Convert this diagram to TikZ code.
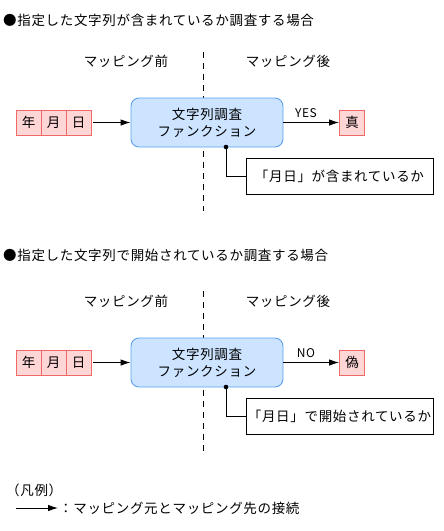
\documentclass[tikz,border=0pt]{standalone}
\usepackage{fontspec}
\setmainfont[LetterSpace=5]{Noto Sans CJK JP}
\usetikzlibrary{arrows.meta}
\definecolor{cellfill}{HTML}{FFD6D6}
\definecolor{celldraw}{HTML}{F06868}
\definecolor{fnfill}{HTML}{CCE4FF}
\definecolor{fndraw}{HTML}{5CA2EE}
\begin{document}
\begin{tikzpicture}[x=1pt,y=-1pt,
  txt/.style={inner sep=0pt,font=\fontsize{13.5}{16}\selectfont},
  small/.style={inner sep=0pt,font=\fontsize{12}{14}\selectfont},
  cell/.style={draw=celldraw,fill=cellfill,line width=0.9pt,minimum width=25pt,minimum height=25pt,inner sep=0pt,font=\fontsize{13.5}{16}\selectfont},
  fnbox/.style={draw=fndraw,fill=fnfill,line width=0.9pt,rounded corners=8pt,minimum width=152pt,minimum height=49pt,inner sep=0pt,align=center,font=\fontsize{13.5}{17}\selectfont},
  note/.style={draw=black,line width=0.8pt,minimum width=187pt,minimum height=36pt,inner sep=0pt,font=\fontsize{13.5}{16}\selectfont},
  conn/.style={draw=black,line width=0.9pt,-{Latex[length=10pt,width=6.5pt]}},
  divider/.style={draw=black,line width=0.9pt,dash pattern=on 6pt off 5pt},
  lead/.style={draw=black,line width=0.8pt}
]
\useasboundingbox (0,0) rectangle (444,531);

% ---------- section 1 ----------
\node[txt,anchor=west] (t1) at (3,20) {●指定した文字列が含まれているか調査する場合};
\coordinate (d1a) at (203,52);
\coordinate (d1b) at (203,211);
\draw[divider] (d1a) -- (d1b);
\node[txt] (pre1) at (126,61) {マッピング前};
\node[txt] (post1) at (288,61) {マッピング後};
\node[cell] (y1) at (28.5,122.5) {年};
\node[cell] (m1) at (53.5,122.5) {月};
\node[cell] (dd1) at (78.5,122.5) {日};
\node[fnbox] (f1) at (207,122.5) {文字列調査\\ファンクション};
\node[cell] (r1) at (352,122.5) {真};
\draw[conn] (dd1.east) ++(2pt,0) coordinate (s1) -- (f1.west);
\draw[conn] (f1.east) -- (r1.west);
\node[small] (yes) at (306,113) {YES};
\node[note] (n1) at (339.5,176) {「月日」が含まれているか};
\coordinate (p1) at (226,147);
\fill (p1) circle (2.3pt);
\draw[lead] (p1) |- (n1.west);

% ---------- section 2 ----------
\node[txt,anchor=west] (t2) at (3,255) {●指定した文字列で開始されているか調査する場合};
\coordinate (d2a) at (203,291);
\coordinate (d2b) at (203,451);
\draw[divider] (d2a) -- (d2b);
\node[txt] (pre2) at (126,301) {マッピング前};
\node[txt] (post2) at (288,301) {マッピング後};
\node[cell] (y2) at (28.5,362.5) {年};
\node[cell] (m2) at (53.5,362.5) {月};
\node[cell] (dd2) at (78.5,362.5) {日};
\node[fnbox] (f2) at (207,362.5) {文字列調査\\ファンクション};
\node[cell] (r2) at (352,362.5) {偽};
\draw[conn] (dd2.east) ++(2pt,0) coordinate (s2) -- (f2.west);
\draw[conn] (f2.east) -- (r2.west);
\node[small] (no) at (306,353) {NO};
\node[note] (n2) at (339.5,416) {「月日」で開始されているか};
\coordinate (p2) at (226,387);
\fill (p2) circle (2.3pt);
\draw[lead] (p2) |- (n2.west);

% ---------- legend ----------
\node[txt,anchor=west] (lg) at (6,490) {（凡例）};
\coordinate (la) at (16,508);
\coordinate (lb) at (58,508);
\draw[conn] (la) -- (lb);
\node[txt,anchor=west] (lt) at (59,508) {：マッピング元とマッピング先の接続};
\end{tikzpicture}
\end{document}
